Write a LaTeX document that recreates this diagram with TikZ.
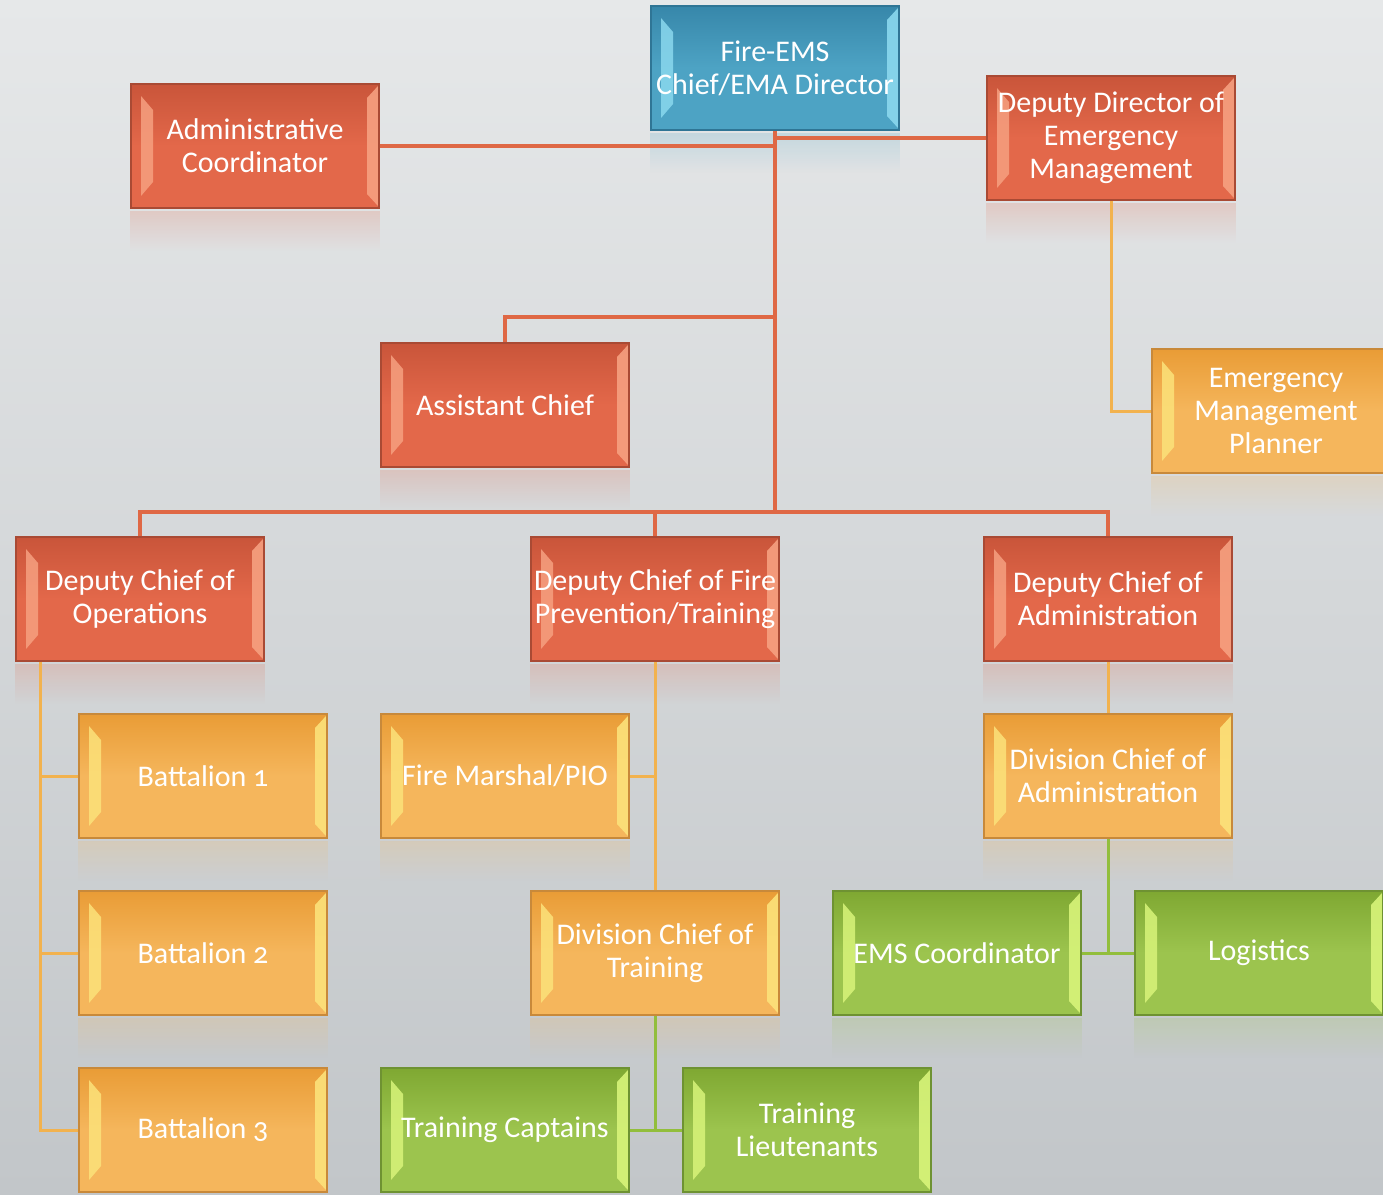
\documentclass[tikz,border=0pt]{standalone}
\usepackage{fontspec}
\setmainfont{Carlito}[Numbers=OldStyle]
\usetikzlibrary{fadings}
\pgfdeclarelayer{bg}
\pgfdeclarelayer{lines}
\pgfsetlayers{bg,lines,main}
\definecolor{bgTop}{HTML}{E6E8E9}
\definecolor{bgMid}{HTML}{EEEFEF}
\definecolor{bgBot}{HTML}{C2C6C9}
\definecolor{rTop}{HTML}{C9553A}
\definecolor{rMid}{HTML}{E3684A}
\definecolor{rHi}{HTML}{F6A080}
\definecolor{rEdge}{HTML}{A94A34}
\definecolor{oTop}{HTML}{E99C36}
\definecolor{oMid}{HTML}{F5B65C}
\definecolor{oHi}{HTML}{FCE27A}
\definecolor{oEdge}{HTML}{C8893A}
\definecolor{gTop}{HTML}{7FA832}
\definecolor{gMid}{HTML}{9CC44E}
\definecolor{gHi}{HTML}{D8F47A}
\definecolor{gEdge}{HTML}{6E9232}
\definecolor{bTop}{HTML}{3787AA}
\definecolor{bMid}{HTML}{4DA3C4}
\definecolor{bHi}{HTML}{8AD8EE}
\definecolor{bEdge}{HTML}{2F7595}
\definecolor{rLine}{HTML}{DF6845}
\definecolor{oLine}{HTML}{F2B24E}
\definecolor{gLine}{HTML}{92BE3C}
\tikzset{
  obox/.style n args={4}{draw=#4, line width=1.2pt, minimum width=248pt,
    minimum height=124pt, inner sep=0pt, align=center, text=white,
    font=\fontsize{30}{33}\selectfont,
    path picture={
      \shade[top color=#1, bottom color=#2, middle color=#2]
        (path picture bounding box.south west) rectangle (path picture bounding box.north east);
      \fill[#3, opacity=0.85]
        ([shift={(10pt,-12pt)}]path picture bounding box.north west) --
        ([shift={(22pt,-26pt)}]path picture bounding box.north west) --
        ([shift={(22pt,26pt)}]path picture bounding box.south west) --
        ([shift={(10pt,12pt)}]path picture bounding box.south west) -- cycle;
      \fill[#3, opacity=0.9]
        ([shift={(-1pt,-2pt)}]path picture bounding box.north east) --
        ([shift={(-12pt,-14pt)}]path picture bounding box.north east) --
        ([shift={(-12pt,14pt)}]path picture bounding box.south east) --
        ([shift={(-1pt,2pt)}]path picture bounding box.south east) -- cycle;
    }},
  redbox/.style={obox={rTop}{rMid}{rHi}{rEdge}},
  orabox/.style={obox={oTop}{oMid}{oHi}{oEdge}},
  grnbox/.style={obox={gTop}{gMid}{gHi}{gEdge}},
  blubox/.style={obox={bTop}{bMid}{bHi}{bEdge}},
  rline/.style={draw=rLine, line width=3.5pt},
  oline/.style={draw=oLine, line width=3pt},
  gline/.style={draw=gLine, line width=3pt},
  refl/.style={fill=#1, opacity=0.2, path fading=south},
}
\begin{document}
\begin{tikzpicture}[x=1pt,y=-1pt]
\useasboundingbox (0,0) rectangle (1383,1194);
\clip (0,0) rectangle (1383,1194);
\begin{pgfonlayer}{bg}
\shade[top color=bgTop, middle color=bgMid, bottom color=bgBot] (0,0) rectangle (1383,1194);
\end{pgfonlayer}

\node[blubox] (chief) at (775,68) {Fire-EMS\\Chief/EMA Director};
\node[redbox] (admin) at (255,146) {Administrative\\Coordinator};
\node[redbox] (ddem) at (1111,138) {Deputy Director of\\Emergency\\Management};
\node[redbox] (asst) at (505,405) {Assistant Chief};
\node[orabox] (emp) at (1276,411) {Emergency\\Management\\Planner};
\node[redbox] (dco) at (140,599) {Deputy Chief of\\Operations};
\node[redbox] (dcfp) at (655,599) {Deputy Chief of Fire\\Prevention/Training};
\node[redbox] (dca) at (1108,599) {Deputy Chief of\\Administration};
\node[orabox] (bat1) at (203,776) {Battalion 1};
\node[orabox] (fm) at (505,776) {Fire Marshal/PIO};
\node[orabox] (dcadm) at (1108,776) {Division Chief of\\Administration};
\node[orabox] (bat2) at (203,953) {Battalion 2};
\node[orabox] (dct) at (655,953) {Division Chief of\\Training};
\node[grnbox] (ems) at (957,953) {EMS Coordinator};
\node[grnbox] (log) at (1259,953) {Logistics};
\node[orabox] (bat3) at (203,1130) {Battalion 3};
\node[grnbox] (tc) at (505,1130) {Training Captains};
\node[grnbox] (tl) at (807,1130) {Training\\Lieutenants};

\begin{pgfonlayer}{bg}
\foreach \n/\c in {chief/bMid,admin/rMid,ddem/rMid,asst/rMid,emp/oMid,dco/rMid,dcfp/rMid,dca/rMid,
  bat1/oMid,fm/oMid,dcadm/oMid,bat2/oMid,dct/oMid,ems/gMid,log/gMid,bat3/oMid,tc/gMid,tl/gMid}
  \fill[refl=\c] ([yshift=-2pt]\n.south west) rectangle ([yshift=-42pt]\n.south east);
\end{pgfonlayer}

\begin{pgfonlayer}{lines}
\coordinate (trunk) at (775,512);
\coordinate (acj) at (775,317);
\coordinate (sp) at (40,0);
\draw[rline] (chief.south) -- (trunk);
\draw[rline] (admin.east) -- (admin.east -| chief.south);
\draw[rline] (ddem.west) -- (ddem.west -| chief.south);
\draw[rline] (asst.north) |- (acj);
\draw[rline] (dco.north) |- (trunk) -| (dca.north);
\draw[rline] (dcfp.north) -- (dcfp.north |- trunk);
\draw[oline] (ddem.south) |- (emp.west);
\draw[oline] (dco.south -| sp) |- (bat3.west);
\draw[oline] (bat1.west) -- (bat1.west -| sp);
\draw[oline] (bat2.west) -- (bat2.west -| sp);
\draw[oline] (dcfp.south) -- (dct.north);
\draw[oline] (fm.east) -- (fm.east -| dcfp.south);
\draw[oline] (dca.south) -- (dcadm.north);
\draw[gline] (dcadm.south) -- (dcadm.south |- ems.east);
\draw[gline] (ems.east) -- (log.west);
\draw[gline] (dct.south) -- (dct.south |- tc.east);
\draw[gline] (tc.east) -- (tl.west);
\end{pgfonlayer}
\end{tikzpicture}
\end{document}
